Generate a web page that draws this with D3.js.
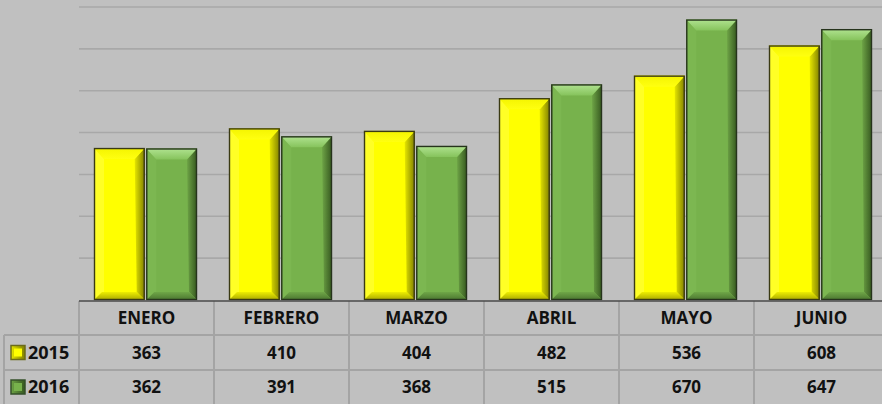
<!DOCTYPE html>
<html>
<head>
<meta charset="utf-8">
<script src="https://cdn.jsdelivr.net/npm/d3@7"></script>
<style>
  body { margin: 0; background: #c0c0c0; }
  svg { display: block; }
  text { font-family: "Open Sans", sans-serif; font-weight: bold; fill: #111; }
</style>
</head>
<body>
<script>
//chart data
var months = ["ENERO", "FEBRERO", "MARZO", "ABRIL", "MAYO", "JUNIO"];
var years = ["2015", "2016"];
var values2015 = [363, 410, 404, 482, 536, 608];
var values2016 = [362, 391, 368, 515, 670, 647];
var yTicks = [0, 100, 200, 300, 400, 500, 600, 700];

window.onload = drawChart();

function drawChart(){

    var width = 882,
        height = 404;

    var svg = d3.select("body")
        .append("svg")
        .attr("width", width)
        .attr("height", height);

    //colours per series
    var looks = {
        "2015": {face: "#ffff00", topA: "#f4f400", topB: "#ffff10", left: "#ffff26",
                 rightA: "#e6e600", rightB: "#7f7f00", bottomA: "#eeee00", bottomB: "#a8a800", border: "#3a3a14"},
        "2016": {face: "#77b24c", topA: "#b0e390", topB: "#86c35c", left: "#7cb751",
                 rightA: "#6ea446", rightB: "#35571f", bottomA: "#6fa647", bottomB: "#4a7530", border: "#26331c"}
    };

    //gradients for the bevel faces
    var defs = svg.append("defs");
    function grad(id, a, b, vertical){
        var lg = defs.append("linearGradient")
            .attr("id", id)
            .attr("x1", 0).attr("y1", 0)
            .attr("x2", vertical ? 0 : 1).attr("y2", vertical ? 1 : 0);
        lg.append("stop").attr("offset", "0%").attr("stop-color", a);
        lg.append("stop").attr("offset", "100%").attr("stop-color", b);
    }
    years.forEach(function(yr){
        var c = looks[yr];
        grad("top" + yr, c.topA, c.topB, true);
        grad("right" + yr, c.rightA, c.rightB, false);
        grad("bottom" + yr, c.bottomA, c.bottomB, true);
    });

    var x = d3.scaleBand()
        .domain(months)
        .range([79, 79 + 135 * months.length]);

    var xs = d3.scaleBand()
        .domain(years)
        .range([15, 118])
        .paddingInner(0.03);

    var y = d3.scaleLinear()
        .domain([0, 700])
        .range([300, 7]);

    //gridlines
    svg.selectAll(".grid")
        .data(yTicks.slice(1))
        .enter()
        .append("line")
        .attr("class", "grid")
        .attr("x1", 79)
        .attr("x2", width)
        .attr("y1", function(d){ return y(d); })
        .attr("y2", function(d){ return y(d); })
        .attr("stroke", "#a8a8a8")
        .attr("stroke-width", 1.6);

    var rows = months.map(function(m, i){
        return [
            {month: m, year: "2015", value: values2015[i]},
            {month: m, year: "2016", value: values2016[i]}
        ];
    });
    var bars = [].concat.apply([], rows);

    //bevelled bars
    var bar = svg.selectAll(".bar")
        .data(bars)
        .enter()
        .append("g")
        .attr("class", "bar");

    bar.each(function(d){
        var g = d3.select(this),
            c = looks[d.year],
            bx = x(d.month) + xs(d.year),
            bw = xs.bandwidth(),
            by = y(d.value),
            bh = y(0) - by,
            bt = 11, bs = 10, bb = 8;

        g.append("rect")
            .attr("x", bx).attr("y", by)
            .attr("width", bw).attr("height", bh)
            .attr("fill", c.face);

        var pts = function(a){ return a.map(function(p){ return p.join(","); }).join(" "); };

        g.append("polygon")
            .attr("points", pts([[bx, by], [bx + bs, by + bt], [bx + bs, by + bh - bb], [bx, by + bh]]))
            .attr("fill", c.left);
        g.append("polygon")
            .attr("points", pts([[bx + bw, by], [bx + bw, by + bh], [bx + bw - bb, by + bh - bb], [bx + bw - bs, by + bt]]))
            .attr("fill", "url(#right" + d.year + ")");
        g.append("polygon")
            .attr("points", pts([[bx, by + bh], [bx + bb, by + bh - bb], [bx + bw - bb, by + bh - bb], [bx + bw, by + bh]]))
            .attr("fill", "url(#bottom" + d.year + ")");
        g.append("polygon")
            .attr("points", pts([[bx, by], [bx + bw, by], [bx + bw - bs, by + bt], [bx + bs, by + bt]]))
            .attr("fill", "url(#top" + d.year + ")");

        g.append("rect")
            .attr("x", bx + 0.5).attr("y", by + 0.5)
            .attr("width", bw - 1).attr("height", bh - 1)
            .attr("fill", "none")
            .attr("stroke", c.border)
            .attr("stroke-width", 1.4);
    });

    //data table
    var rowY = [301, 335, 370, 404];
    var tableRight = width;
    var lineColor = "#a4a4a4";

    //vertical lines
    svg.selectAll(".vline")
        .data(months)
        .enter()
        .append("line")
        .attr("x1", function(d){ return x(d); })
        .attr("x2", function(d){ return x(d); })
        .attr("y1", rowY[0])
        .attr("y2", rowY[3])
        .attr("stroke", lineColor)
        .attr("stroke-width", 2);

    svg.append("line")
        .attr("x1", 4).attr("x2", 4)
        .attr("y1", rowY[1]).attr("y2", rowY[3])
        .attr("stroke", lineColor).attr("stroke-width", 2);

    svg.selectAll(".hline")
        .data([rowY[1], rowY[2]])
        .enter()
        .append("line")
        .attr("x1", 4)
        .attr("x2", tableRight)
        .attr("y1", function(d){ return d; })
        .attr("y2", function(d){ return d; })
        .attr("stroke", lineColor)
        .attr("stroke-width", 2);

    //axis line
    svg.append("line")
        .attr("x1", 79).attr("x2", width)
        .attr("y1", 301).attr("y2", 301)
        .attr("stroke", "#4a4a4a")
        .attr("stroke-width", 1.6);

    //header labels
    svg.selectAll(".head")
        .data(months)
        .enter()
        .append("text")
        .attr("x", function(d){ return x(d) + x.bandwidth() / 2; })
        .attr("y", (rowY[0] + rowY[1]) / 2)
        .attr("dy", "0.36em")
        .attr("text-anchor", "middle")
        .style("font-size", "17px")
        .text(function(d){ return d; });

    var series = [values2015, values2016];

    series.forEach(function(vals, r){
        var cy = (rowY[r + 1] + rowY[r + 2]) / 2;
        var c = looks[years[r]];

        //legend key
        svg.append("rect")
            .attr("x", 11).attr("y", cy - 7)
            .attr("width", 14).attr("height", 14)
            .attr("fill", "url(#right" + years[r] + ")")
            .attr("stroke", r == 0 ? "#6b6b1a" : "#34502a")
            .attr("stroke-width", 1.5);
        svg.append("rect")
            .attr("x", 14).attr("y", cy - 4)
            .attr("width", 8).attr("height", 8)
            .attr("fill", c.face);

        svg.append("text")
            .attr("x", 28)
            .attr("y", cy)
            .attr("dy", "0.36em")
            .style("font-size", "18px")
            .text(years[r]);

        svg.selectAll(".val" + r)
            .data(vals)
            .enter()
            .append("text")
            .attr("x", function(d, i){ return x(months[i]) + x.bandwidth() / 2; })
            .attr("y", cy)
            .attr("dy", "0.36em")
            .attr("text-anchor", "middle")
            .style("font-size", "17px")
            .text(function(d){ return d; });
    });
};
</script>
</body>
</html>
